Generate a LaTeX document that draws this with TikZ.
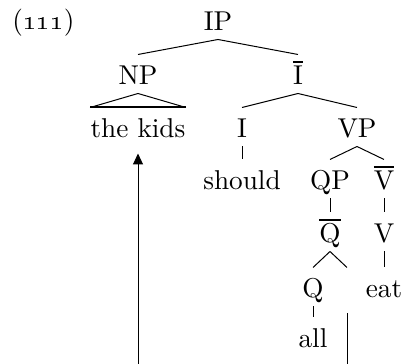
\documentclass[tikz,border=0pt]{standalone}
\usepackage{amsmath}
\usetikzlibrary{arrows.meta}
\newcommand{\xbar}[1]{\vbox{\hrule height .8pt\kern 1.3pt\hbox{#1}}}

\begin{document}
\begin{tikzpicture}[x=0.4pt, y=-0.4pt, font=\fontsize{10.9}{13}\selectfont,
  cat/.style={anchor=base, inner sep=0pt, text height=12pt, text depth=3.2pt},
  >={Triangle[length=4.4pt,width=4pt]}]
\useasboundingbox (0,0) rectangle (401,364);
\node[anchor=base west, inner sep=0pt] (ex) at (12,30) {(\oldstylenums{111})};
\node[cat] (IP) at (218,31) {IP};
\node[cat] (NP) at (138,85) {NP};
\node[cat] (Ibar) at (298,85) {\xbar{I}};
\node[cat] (kids) at (138,138) {the kids};
\node[cat] (I) at (242,138) {I};
\node[cat] (VP) at (357,138) {VP};
\node[cat] (should) at (242,190) {should};
\node[cat] (QP) at (330,190) {QP};
\node[cat] (Vbar) at (384,190) {\xbar{V}};
\node[cat] (Qbar) at (330,243) {\xbar{Q}};
\node[cat] (V) at (384,243) {V};
\node[cat] (Q) at (313,298) {Q};
\node[cat] (trace) at (347,298) {};
\node[cat] (eat) at (384,298) {eat};
\node[cat] (all) at (313,348) {all};
\draw (IP.south) -- (NP.north) (IP.south) -- (Ibar.north);
\draw (NP.south) -- (kids.north west) (NP.south) -- (kids.north east);
\draw[thick] (kids.north west) -- (kids.north east);
\draw (Ibar.south) -- (I.north) (Ibar.south) -- (VP.north);
\draw (I.south) -- (should.north);
\draw (VP.south) -- (QP.north) (VP.south) -- (Vbar.north);
\draw (QP.south) -- (Qbar.north);
\draw (Vbar.south) -- (V.north);
\draw (Qbar.south) -- (Q.north) (Qbar.south) -- (trace.north);
\draw (V.south) -- (eat.north);
\draw (Q.south) -- (all.north);
\draw[->] ([yshift=-2.8pt]trace.south) -- (trace |- 0,380) -| ([yshift=-2.8pt]kids.south);
\end{tikzpicture}
\end{document}
